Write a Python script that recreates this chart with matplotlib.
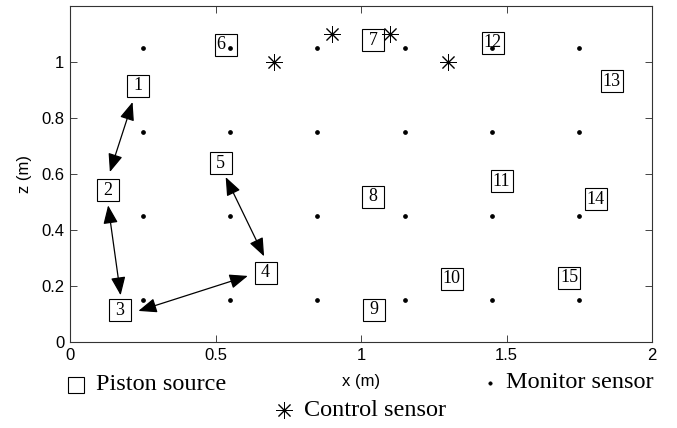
import matplotlib
matplotlib.use("Agg")
import matplotlib.pyplot as plt
from matplotlib.lines import Line2D

# Monitor sensor grid (m)
monitor_x = [0.25, 0.55, 0.85, 1.15, 1.45, 1.75]
monitor_z = [0.15, 0.45, 0.75, 1.05]

# Control sensors (m)
control_x = [0.70, 0.90, 1.10, 1.30]
control_z = [1.00, 1.10, 1.10, 1.00]

# Piston sources: label and position (m)
source_labels = ["1", "2", "3", "4", "5", "6", "7", "8", "9", "10",
                 "11", "12", "13", "14", "15"]
source_x = [0.235, 0.130, 0.172, 0.672, 0.518, 0.535, 1.042, 1.042, 1.045,
            1.312, 1.483, 1.452, 1.861, 1.806, 1.715]
source_z = [0.915, 0.542, 0.113, 0.248, 0.639, 1.062, 1.078, 0.518, 0.116,
            0.226, 0.574, 1.069, 0.932, 0.510, 0.230]
# horizontal position of each number inside its square (m)
label_x = [0.235, 0.130, 0.172, 0.672, 0.518, 0.519, 1.042, 1.042, 1.045,
           1.312, 1.483, 1.452, 1.861, 1.806, 1.715]

# Source moves shown with double arrows: (x0, z0, x1, z1)
moves = [
    (0.215, 0.857, 0.137, 0.607),
    (0.131, 0.488, 0.174, 0.167),
    (0.235, 0.111, 0.611, 0.236),
    (0.535, 0.589, 0.667, 0.306),
]

x_ticks = [0, 0.5, 1, 1.5, 2]
z_ticks = [0, 0.2, 0.4, 0.6, 0.8, 1]

sans = "Liberation Sans"
serif = "Liberation Serif"

fig = plt.figure(figsize=(6.77, 4.28), dpi=100)
ax = fig.add_axes([70 / 677, 1 - 342 / 428, 582 / 677, 336 / 428])

# monitor sensors
mx = [x for z in monitor_z for x in monitor_x]
mz = [z for z in monitor_z for x in monitor_x]
ax.plot(mx, mz, linestyle="none", marker="o", markersize=2.4,
        color="black", zorder=3)

# control sensors
ax.plot(control_x, control_z, linestyle="none", marker=(8, 2, 0),
        markersize=12, markeredgewidth=0.7, color="black", zorder=3)

# piston sources: square marker with its number
ax.plot(source_x, source_z, linestyle="none", marker="s", markersize=15.5,
        markerfacecolor="none", markeredgecolor="black",
        markeredgewidth=0.8, zorder=2)
for lab, x, z in zip(source_labels, label_x, source_z):
    ax.text(x, z, lab, ha="center", va="center", fontsize=13,
            family=serif, zorder=2)

# arrows
for x0, z0, x1, z1 in moves:
    ax.annotate("", xy=(x1, z1), xytext=(x0, z0),
                arrowprops=dict(arrowstyle="<|-|>,head_length=0.8,head_width=0.32",
                                mutation_scale=14, color="black", lw=0.9,
                                shrinkA=0, shrinkB=0))

ax.set_xlim(0, 2)
ax.set_ylim(0, 1.2)
ax.set_xticks(x_ticks)
ax.set_xticklabels(["0", "0.5", "1", "1.5", "2"])
ax.set_yticks(z_ticks)
ax.set_yticklabels(["0", "0.2", "0.4", "0.6", "0.8", "1"])
ax.tick_params(direction="in", length=5, width=0.7, top=True, right=True,
               labelsize=12, pad=4, color="#444444")
for lab in ax.get_xticklabels() + ax.get_yticklabels():
    lab.set_family(sans)
for sp in ax.spines.values():
    sp.set_linewidth(0.8)
    sp.set_color("#333333")

ax.set_xlabel("x (m)", family=sans, fontsize=12, labelpad=8)
ax.set_ylabel("z (m)", family=sans, fontsize=12, labelpad=7)

# key for the three symbols, placed beneath the axes
def key(px, py, marker, ms, mew, text, tx):
    fig.add_artist(Line2D([px / 677], [1 - py / 428], transform=fig.transFigure,
                          linestyle="none", marker=marker, markersize=ms,
                          markeredgewidth=mew,
                          markerfacecolor="none" if marker == "s" else "black",
                          markeredgecolor="black"))
    fig.text(tx / 677, 1 - py / 428, text, ha="left", va="center",
             family=serif, fontsize=17.5)

key(75.5, 385, "s", 12, 0.8, "Piston source", 96)
key(284.3, 410, (8, 2, 0), 12, 0.7, "Control sensor", 304)
key(490, 383, "o", 2.4, 0.5, "Monitor sensor", 506)

fig.savefig("out.png", dpi=100)
